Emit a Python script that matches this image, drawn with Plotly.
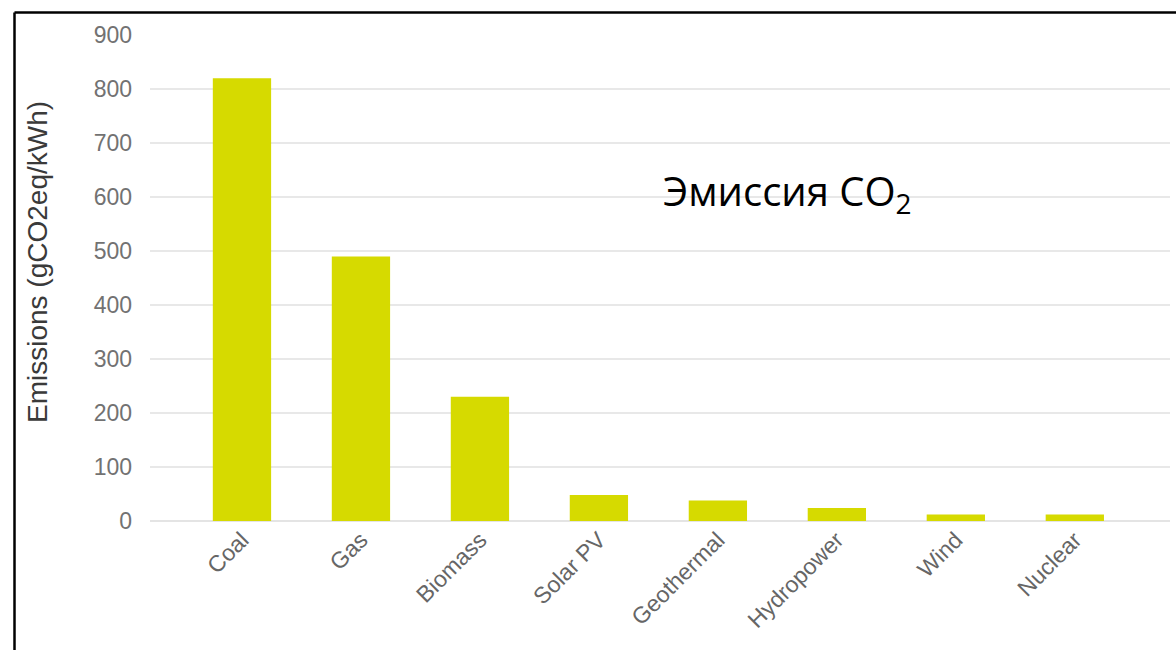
import plotly.graph_objects as go

categories = ["Coal", "Gas", "Biomass", "Solar PV", "Geothermal", "Hydropower", "Wind", "Nuclear"]
emissions = [820, 490, 230, 48, 38, 24, 12, 12]
y_ticks = [0, 100, 200, 300, 400, 500, 600, 700, 800, 900]
y_title = "Emissions (gCO2eq/kWh)"
note_text = "Эмиссия CO<sub>2</sub>"

W, H = 1176, 650
L, R, T, B = 150, 6, 35, 129
pw, ph = W - L - R, H - T - B

def px_x(x):
    return (x - L) / pw

def px_y(y):
    return (H - B - y) / ph

fig = go.Figure()
fig.add_trace(go.Bar(
    x=categories, y=emissions, width=0.49,
    marker=dict(color="#d6da00", line=dict(width=0)),
))

fig.update_layout(
    width=W, height=H,
    margin=dict(l=L, r=R, t=T, b=B, autoexpand=False),
    paper_bgcolor="white", plot_bgcolor="white",
    showlegend=False,
    font=dict(family="Liberation Sans, Arial, sans-serif"),
    xaxis=dict(
        type="category", range=[-0.773, 7.8],
        tickangle=-45, showgrid=False, zeroline=False, showline=False,
        ticks="", tickfont=dict(size=23, color="#666666"),
    ),
    yaxis=dict(
        range=[0, 900], tickvals=y_ticks, showgrid=True,
        gridcolor="#e8e8e8", gridwidth=1.5, zeroline=True,
        zerolinecolor="#e4e4e4", zerolinewidth=1.5, showline=False,
        ticks="", ticklabelstandoff=17,
        tickfont=dict(size=23, color="#727272"),
    ),
    annotations=[
        dict(
            text=note_text, xref="paper", yref="paper",
            x=px_x(787), y=px_y(192), showarrow=False,
            font=dict(family="Open Sans, Noto Sans, sans-serif", size=40, color="black"),
            xanchor="center", yanchor="middle",
        ),
        dict(
            text=y_title, xref="paper", yref="paper", textangle=-90,
            x=px_x(37), y=px_y(262), showarrow=False,
            font=dict(size=28, color="#3a3a3a"),
            xanchor="center", yanchor="middle",
        ),
    ],
    shapes=[
        dict(type="line", xref="paper", yref="paper",
             x0=px_x(14.5), x1=px_x(1180), y0=px_y(12.5), y1=px_y(12.5),
             line=dict(color="black", width=2.5)),
        dict(type="line", xref="paper", yref="paper",
             x0=px_x(14.5), x1=px_x(14.5), y0=px_y(12.5), y1=px_y(655),
             line=dict(color="black", width=2.5)),
    ],
)

fig.write_html("out.html")
